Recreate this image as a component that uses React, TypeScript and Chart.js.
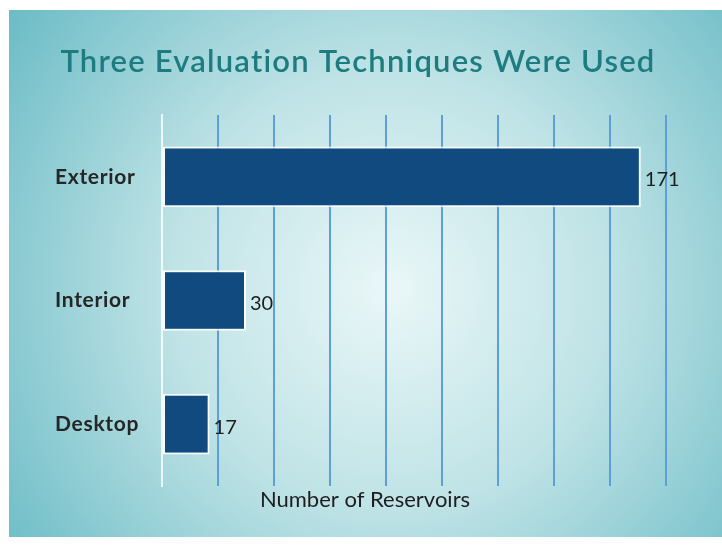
import React, { useEffect, useRef } from 'react';
import { Chart, registerables } from 'chart.js';

Chart.register(...registerables);

const categories = ['Exterior', 'Interior', 'Desktop'];
const reservoirCounts = [171, 30, 17];
const xMin = 0;
const xMax = 180;
const xStep = 20;
const chartTitle = 'Three Evaluation Techniques Were Used';
const xAxisTitle = 'Number of Reservoirs';

const FONT = 'Lato, "Open Sans", sans-serif';

const panelPlugin = {
  id: 'panelBackground',
  beforeDraw(chart: any) {
    const { ctx, width, height } = chart;
    ctx.save();
    ctx.fillStyle = '#ffffff';
    ctx.fillRect(0, 0, width, height);
    const x0 = 9, y0 = 10, x1 = width, y1 = 537;
    const g = ctx.createRadialGradient(390, 290, 10, 390, 290, 470);
    g.addColorStop(0, '#e8f6f7');
    g.addColorStop(0.45, '#bfe3e6');
    g.addColorStop(1, '#6cbcc6');
    ctx.fillStyle = g;
    ctx.fillRect(x0, y0, x1 - x0, y1 - y0);
    ctx.restore();
    (ctx as any).letterSpacing = '0.7px';
  },
};

const textPlugin = {
  id: 'texts',
  afterDatasetsDraw(chart: any) {
    const { ctx } = chart;
    const meta = chart.getDatasetMeta(0);
    ctx.save();
    (ctx as any).letterSpacing = '0px';
    ctx.font = `20px ${FONT}`;
    ctx.fillStyle = '#1e1e1e';
    ctx.textAlign = 'left';
    ctx.textBaseline = 'middle';
    meta.data.forEach((el: any, i: number) => {
      ctx.fillText(String(reservoirCounts[i]), el.x + 4, el.y + 3);
    });
    ctx.restore();
  },
  afterDraw(chart: any) {
    const { ctx } = chart;
    ctx.save();
    (ctx as any).letterSpacing = '1.2px';
    ctx.font = `600 31px ${FONT}`;
    ctx.fillStyle = '#1c7c80';
    ctx.textAlign = 'center';
    ctx.textBaseline = 'middle';
    ctx.fillText(chartTitle, 358, 62);
    (ctx as any).letterSpacing = '0px';
    ctx.font = `22px ${FONT}`;
    ctx.fillStyle = '#1e1e1e';
    ctx.fillText(xAxisTitle, 365, 500);
    ctx.restore();
    (ctx as any).letterSpacing = '0px';
  },
};

export default function App() {
  const ref = useRef<HTMLCanvasElement | null>(null);

  useEffect(() => {
    if (!ref.current) return;
    const chart = new Chart(ref.current, {
      type: 'bar',
      data: {
        labels: categories,
        datasets: [
          {
            data: reservoirCounts,
            backgroundColor: '#104a7e',
            borderColor: 'rgba(255,255,255,0.9)',
            borderWidth: 2,
            borderSkipped: false,
            categoryPercentage: 1,
            barPercentage: 0.49,
          },
        ],
      },
      options: {
        indexAxis: 'y',
        responsive: false,
        animation: false,
        layout: { padding: { left: 55, right: 56, top: 115, bottom: 0 } },
        plugins: {
          legend: { display: false },
          tooltip: { enabled: false },
          title: { display: false },
        },
        scales: {
          x: {
            min: xMin,
            max: xMax,
            ticks: { display: false, stepSize: xStep },
            grid: {
              drawTicks: false,
              lineWidth: 2,
              color: (c: any) => (c.tick && c.tick.value === 0 ? 'rgba(0,0,0,0)' : '#5d9fda'),
            },
            border: { display: false },
            afterFit: (s: any) => {
              s.height = 61;
            },
          },
          y: {
            grid: { display: false },
            border: { display: true, color: 'rgba(255,255,255,0.8)', width: 2 },
            ticks: {
              crossAlign: 'far',
              color: '#262626',
              font: { family: FONT, size: 21, weight: 'bold' },
            },
            afterFit: (s: any) => {
              s.width = 107;
            },
          },
        },
      },
      plugins: [panelPlugin, textPlugin],
    } as any);
    return () => chart.destroy();
  }, []);

  return (
    <div style={{ position: 'fixed', left: 0, top: 0, width: 722, height: 547 }}>
      <canvas ref={ref} width={722} height={547} style={{ display: 'block', width: 722, height: 547 }} />
    </div>
  );
}
